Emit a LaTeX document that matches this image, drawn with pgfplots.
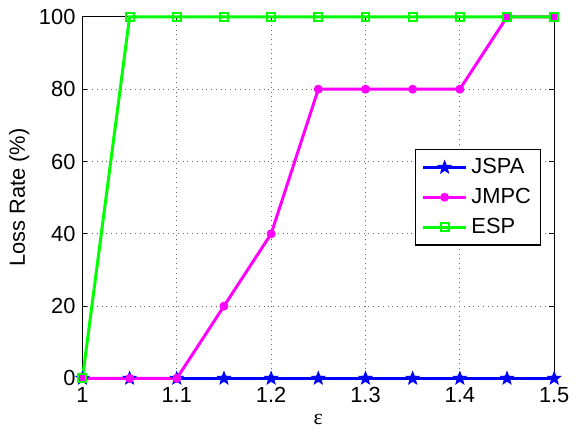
\documentclass[border=0pt]{standalone}
\usepackage{pgfplots}
\pgfplotsset{compat=1.18}
\usepackage{fontspec}
\setmainfont{Liberation Sans}
\newfontfamily\serifsym{Liberation Serif}

\definecolor{mblue}{rgb}{0,0,1}
\definecolor{mmag}{rgb}{1,0,1}
\definecolor{mgreen}{rgb}{0,1,0}

% filled five-pointed star
\pgfdeclareplotmark{fstar}{%
  \pgfpathmoveto{\pgfpointpolar{90}{\pgfplotmarksize}}%
  \pgfpathlineto{\pgfpointpolar{126}{0.42\pgfplotmarksize}}%
  \pgfpathlineto{\pgfpointpolar{162}{\pgfplotmarksize}}%
  \pgfpathlineto{\pgfpointpolar{198}{0.42\pgfplotmarksize}}%
  \pgfpathlineto{\pgfpointpolar{234}{\pgfplotmarksize}}%
  \pgfpathlineto{\pgfpointpolar{270}{0.42\pgfplotmarksize}}%
  \pgfpathlineto{\pgfpointpolar{306}{\pgfplotmarksize}}%
  \pgfpathlineto{\pgfpointpolar{342}{0.42\pgfplotmarksize}}%
  \pgfpathlineto{\pgfpointpolar{18}{\pgfplotmarksize}}%
  \pgfpathlineto{\pgfpointpolar{54}{0.42\pgfplotmarksize}}%
  \pgfpathclose
  \pgfusepathqfillstroke
}

\pgfplotstableread{
x     jspa jmpc esp
1.00  0    0    0
1.05  0    0    100
1.10  0    0    100
1.15  0    20   100
1.20  0    40   100
1.25  0    80   100
1.30  0    80   100
1.35  0    80   100
1.40  0    80   100
1.45  0    100  100
1.50  0    100  100
}\losstable

\begin{document}
\begin{tikzpicture}
\begin{axis}[
  at={(0,0)}, anchor=south west,
  scale only axis,
  width=237.5pt, height=182pt,
  xmin=1, xmax=1.5, ymin=0, ymax=100,
  xtick={1,1.1,1.2,1.3,1.4,1.5},
  ytick={0,20,40,60,80,100},
  xticklabels={1,1.1,1.2,1.3,1.4,1.5},
  tick align=inside,
  major tick length=2.5pt,
  ymajorgrids, xmajorgrids,
  grid style={dotted, black!60, line width=0.4pt},
  axis line style={line width=0.6pt},
  tick style={line width=0.5pt, black},
  /pgf/number format/assume math mode=true,
  tick label style={font=\fontsize{11}{13}\selectfont},
  xticklabel style={yshift=-1pt},
  label style={font=\fontsize{11}{13}\selectfont},
  xlabel={{\serifsym ε}},
  ylabel={Loss Rate (\%)},
  xlabel style={yshift=1pt},
  ylabel style={yshift=-2pt},
  legend style={at={(0.973,0.635)}, anchor=north east,
    font=\fontsize{11}{13}\selectfont, draw=black, line width=0.6pt,
    row sep=1.8pt, inner xsep=3pt, inner ysep=2.5pt},
  legend cell align=left,
  legend image code/.code={%
    \draw[mark repeat=2, mark phase=2, line width=1.5pt]
      plot coordinates {(0pt,0pt) (10.75pt,0pt) (21.5pt,0pt)};},
  clip=false,
]
\addplot[mblue, line width=1.5pt, mark=fstar, mark size=3.3pt,
  mark options={fill=mblue, line width=0.5pt}] table[x=x, y=jspa] {\losstable};
\addplot[mmag, line width=1.5pt, mark=*, mark size=2pt,
  mark options={fill=mmag, line width=0.5pt}] table[x=x, y=jmpc] {\losstable};
\addplot[mgreen, line width=1.5pt, mark=square, mark size=2pt,
  mark options={line width=1pt}] table[x=x, y=esp] {\losstable};
\legend{JSPA, JMPC, ESP}
\end{axis}
\path[use as bounding box] (-41.5pt,-24.5pt) rectangle (246.5pt,190.5pt);
\end{tikzpicture}
\end{document}
